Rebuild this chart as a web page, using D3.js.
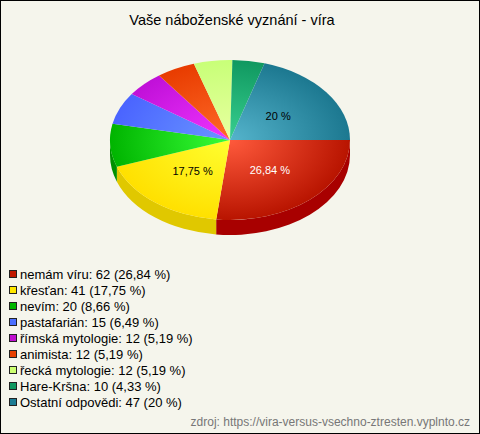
<!DOCTYPE html>
<html><head><meta charset="utf-8">
<script src="https://cdn.jsdelivr.net/npm/d3@7"></script>
<style>html,body{margin:0;padding:0;background:#f5f5ec}svg{display:block}text{font-family:"Liberation Sans",Arial,sans-serif}</style>
</head><body><svg id="c" width="480" height="434"></svg>
<script>
const categories=["nemám víru","křesťan","nevím","pastafarián","římská mytologie","animista","řecká mytologie","Hare-Kršna","Ostatní odpovědi"];
const values=[62,41,20,15,12,12,12,10,47];
const percentLabels=["26,84 %","17,75 %","8,66 %","6,49 %","5,19 %","5,19 %","5,19 %","4,33 %","20 %"];
const showOnPie=[true,true,false,false,false,false,false,false,true];
const labelColors=["#fff","#000","#000","#000","#000","#000","#000","#000","#000"];
const centerColors=["#ff5a3c","#ffff30","#38ff38","#6a96ff","#f035ff","#ff6a28","#e8ffa0","#38d090","#55b4cc"];
const edgeColors=["#b81400","#ffe000","#00b400","#4a64ff","#c010d8","#e83c00","#c8ff78","#109860","#1c7890"];
const wallColors=["#a80000","#e0c800","#009000","#3048c8","#9000a0","#b82800","#a0d060","#007848","#105868"];
const legendColors=["#c01800","#ffe800","#00b800","#4c70ff","#c010d0","#e84000","#ccff70","#109860","#1c7c94"];
const title="Vaše náboženské vyznání - víra";
const source="zdroj: https://vira-versus-vsechno-ztresten.vyplnto.cz";

const svg=d3.select("#c");
const W=480,H=434,cx=230,cy=140,rx=120,ry=80,depth=15;
svg.append("rect").attr("x",.5).attr("y",.5).attr("width",W-1).attr("height",H-1).attr("fill","#f5f5ec").attr("stroke","#000");
svg.append("text").attr("x",232).attr("y",25).attr("text-anchor","middle").attr("font-size",14.5).attr("fill","#000").text(title);

const arcs=d3.pie().sort(null).startAngle(Math.PI/2).endAngle(Math.PI/2+2*Math.PI)(values);
const px=a=>cx+rx*Math.sin(a), py=a=>cy-ry*Math.cos(a);
const defs=svg.append("defs");
centerColors.forEach((c,i)=>{
  const g=defs.append("radialGradient").attr("id","g"+i).attr("gradientUnits","userSpaceOnUse")
    .attr("cx",0).attr("cy",0).attr("r",1);
  g.append("stop").attr("offset",0).attr("stop-color",c);
  g.append("stop").attr("offset",1).attr("stop-color",edgeColors[i]);
});
// side walls
const lo=Math.PI/2,hi=3*Math.PI/2;
svg.append("g").selectAll("path").data(arcs.filter(d=>d.startAngle<hi)).join("path")
 .attr("d",d=>{const a=Math.max(d.startAngle,lo),b=Math.min(d.endAngle,hi);
   return `M${px(a)},${py(a)}A${rx},${ry} 0 0 1 ${px(b)},${py(b)}L${px(b)},${py(b)+depth}A${rx},${ry} 0 0 0 ${px(a)},${py(a)+depth}Z`;})
 .attr("fill",d=>wallColors[d.index]);
// top
const arc=d3.arc().innerRadius(0).outerRadius(1);
svg.append("g").attr("transform",`translate(${cx},${cy}) scale(${rx},${ry})`).selectAll("path").data(arcs).join("path")
 .attr("d",arc).attr("fill",d=>`url(#g${d.index})`);
// labels
svg.append("g").selectAll("text").data(arcs.filter(d=>showOnPie[d.index])).join("text")
 .attr("x",d=>{const m=(d.startAngle+d.endAngle)/2;return px(m)*0+cx+rx*.5*Math.sin(m)*1;})
 .attr("y",d=>{const m=(d.startAngle+d.endAngle)/2;return cy-ry*.5*Math.cos(m)+4;})
 .attr("text-anchor","middle").attr("font-size",11).attr("fill",d=>labelColors[d.index]).text(d=>percentLabels[d.index]);
// legend
const rowY=d3.scalePoint().domain(d3.range(categories.length)).range([274,402]);
const lg=svg.append("g").selectAll("g").data(categories).join("g").attr("transform",(d,i)=>`translate(0,${rowY(i)})`);
lg.append("rect").attr("x",9.5).attr("y",-3.5).attr("width",7).attr("height",7).attr("fill",(d,i)=>legendColors[i]).attr("stroke","#222");
lg.append("text").attr("x",20).attr("y",4.5).attr("font-size",13).attr("fill","#000").text((d,i)=>`${d}: ${values[i]} (${percentLabels[i]})`);
svg.append("text").attr("x",470).attr("y",426).attr("text-anchor","end").attr("font-size",12).attr("fill","#777").text(source);
</script></body></html>
